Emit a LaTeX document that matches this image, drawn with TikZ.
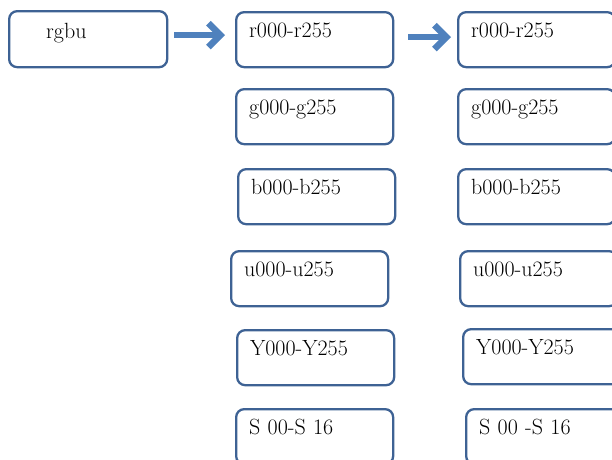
\documentclass[tikz,border=0pt]{standalone}
\usetikzlibrary{arrows.meta}
\definecolor{boxline}{RGB}{62,98,148}
\definecolor{arrowblue}{RGB}{79,129,189}
\begin{document}
\begin{tikzpicture}[x=1pt,y=-1pt,
  box/.style={draw=boxline, line width=2.3pt, rounded corners=8pt, anchor=north west,
    align=left, inner ysep=0pt, inner xsep=13pt, text width=131pt,
    text height=25pt, text depth=30pt, font=\fontsize{22}{25}\selectfont},
  bigarrow/.style={draw=arrowblue, line width=6.5pt,
    -{Straight Barb[length=12pt,width=24pt,line width=6.5pt]}}]
\useasboundingbox (0,0) rectangle (612,459);
\clip (0,0) rectangle (612,459);
% left box
\node[box, inner xsep=37pt, text width=84pt, text height=27pt, text depth=29pt] (rgbu) at (8,10) {rgbu};
% column 2
\node[box] (r2) at (235,11) {r000-r255};
\node[box] (g2) at (235,88) {g000-g255};
\node[box] (b2) at (237,168) {b000-b255};
\node[box] (u2) at (230,250) {u000-u255};
\node[box] (Y2) at (236,329) {Y000-Y255};
\node[box] (S2) at (235,408) {S 00-S 16};
% column 3
\node[box] (r3) at (457,11) {r000-r255};
\node[box] (g3) at (457,88) {g000-g255};
\node[box] (b3) at (457,168) {b000-b255};
\node[box] (u3) at (459,250) {u000-u255};
\node[box] (Y3) at (462,328) {Y000-Y255};
\node[box] (S3) at (465,408) {S 00 -S 16};
% arrows
\coordinate (a1s) at ([yshift=4pt]rgbu.east);
\coordinate (a1e) at ([yshift=4pt]r2.west |- rgbu.east);
\coordinate (a2s) at ([yshift=2.5pt]r2.east);
\coordinate (a2e) at ([yshift=2.5pt]r3.west |- r2.east);
\draw[bigarrow, shorten <=6pt, shorten >=10pt] (a1s) -- (a1e);
\draw[bigarrow, shorten <=14pt, shorten >=6pt] (a2s) -- (a2e);
\end{tikzpicture}
\end{document}
